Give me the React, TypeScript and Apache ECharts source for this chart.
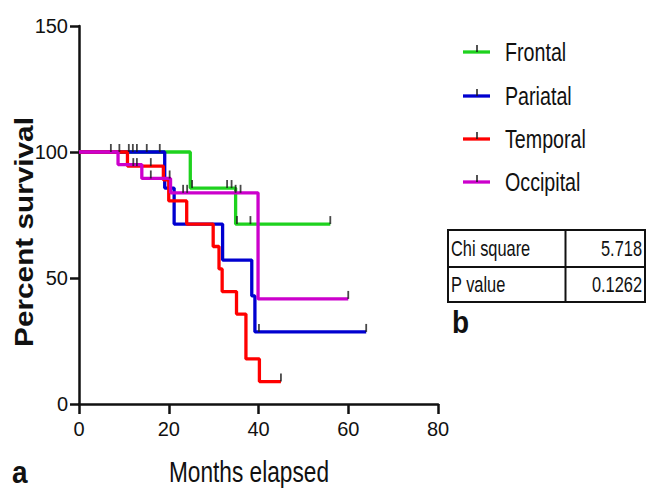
import React, { useEffect, useRef } from "react";
import * as echarts from "echarts";

const groups = ["Frontal", "Pariatal", "Temporal", "Occipital"];
const colors = ["#1ed21e", "#0000d0", "#ff0000", "#cc00cc"];

const xTickLabels = ["0", "20", "40", "60", "80"];
const yTickLabels = ["0", "50", "100", "150"];

// Kaplan-Meier step points (months, percent survival)
const frontalT = [0, 24.8, 34.9, 56];
const frontalS = [100, 85.7, 71.4, 71.4];
const pariatalT = [0, 19.1, 21.2, 32, 38.5, 39.2, 64];
const pariatalS = [100, 85.7, 71.4, 57.1, 42.9, 28.6, 28.6];
const temporalT = [0, 10.8, 18.8, 20.0, 24, 29.9, 31.2, 31.9, 35.1, 37.2, 40.2, 45];
const temporalS = [100, 94.4, 88.9, 80.6, 71.4, 62.5, 53.6, 44.6, 35.7, 17.9, 8.9, 8.9];
const occipitalT = [0, 8.7, 14.0, 20.4, 39.9, 60];
const occipitalS = [100, 95, 89.5, 83.8, 41.7, 41.7];

// censored observations
const frontalCT = [9, 11.1, 12, 12.9, 15.1, 18, 25.2, 33, 34, 35.2, 38.2, 56];
const frontalCS = [100, 100, 100, 100, 100, 100, 85.7, 85.7, 85.7, 71.4, 71.4, 71.4];
const pariatalCT = [40.1, 64];
const pariatalCS = [28.6, 28.6];
const temporalCT = [12.1, 12.9, 16.0, 45];
const temporalCS = [94.4, 94.4, 94.4, 8.9];
const occipitalCT = [7.1, 16.0, 20.2, 23.2, 24.1, 34.9, 36.0, 60];
const occipitalCS = [100, 89.5, 89.5, 83.8, 83.8, 83.8, 83.8, 41.7];

const stats = [
  ["Chi square", "5.718"],
  ["P value", "0.1262"],
];

const zip = (a: number[], b: number[]) => a.map((v, i) => [v, b[i]]);

const lineData = [
  zip(frontalT, frontalS),
  zip(pariatalT, pariatalS),
  zip(temporalT, temporalS),
  zip(occipitalT, occipitalS),
];
const censorData = [
  zip(frontalCT, frontalCS),
  zip(pariatalCT, pariatalCS),
  zip(temporalCT, temporalCS),
  zip(occipitalCT, occipitalCS),
];

const SANS = "'Liberation Sans', Arial, sans-serif";

export default function App() {
  const ref = useRef<HTMLDivElement>(null);
  useEffect(() => {
    if (!ref.current) return;
    const chart = echarts.init(ref.current, undefined, { renderer: "svg" });

    const series: any[] = [];
    groups.forEach((g, i) => {
      series.push({
        name: g,
        type: "line",
        step: "end",
        data: lineData[i],
        symbol: "none",
        lineStyle: { color: colors[i], width: 3.3 },
        itemStyle: { color: colors[i] },
        z: 2 + i,
      });
    });
    groups.forEach((g, i) => {
      series.push({
        name: g + " censored",
        type: "scatter",
        data: censorData[i],
        symbol: "rect",
        symbolSize: [1.8, 8],
        symbolOffset: [0, -4],
        itemStyle: { color: "#1a1a1a" },
        z: 10,
      });
    });

    const graphic: any[] = [];
    const legendY = [52, 96, 139, 182];
    groups.forEach((g, i) => {
      const y = legendY[i];
      graphic.push({
        type: "line",
        shape: { x1: 463, y1: y, x2: 490, y2: y },
        style: { stroke: colors[i], lineWidth: 3.3 },
      });
      graphic.push({
        type: "line",
        shape: { x1: 477, y1: y - 7, x2: 477, y2: y },
        style: { stroke: "#1a1a1a", lineWidth: 1.5 },
      });
      graphic.push({
        type: "text",
        x: 505,
        y: y,
        scaleX: 0.82,
        scaleY: 1.08,
        style: {
          text: g,
          fill: "#111",
          font: `24px ${SANS}`,
          textAlign: "left",
          textVerticalAlign: "middle",
        },
      });
    });

    // stats table
    const tL = 448, tR = 645, tT = 230, tM = 267, tB = 302, tC = 565.5;
    graphic.push({
      type: "rect",
      shape: { x: tL, y: tT, width: tR - tL, height: tB - tT },
      style: { fill: "none", stroke: "#111", lineWidth: 2 },
    });
    graphic.push({
      type: "line",
      shape: { x1: tL, y1: tM, x2: tR, y2: tM },
      style: { stroke: "#111", lineWidth: 2 },
    });
    graphic.push({
      type: "line",
      shape: { x1: tC, y1: tT, x2: tC, y2: tB },
      style: { stroke: "#111", lineWidth: 2 },
    });
    const rowY = [249, 285];
    stats.forEach((row, r) => {
      graphic.push({
        type: "text",
        x: tL + 3,
        y: rowY[r],
        scaleX: 0.82,
        scaleY: 1.08,
        style: { text: row[0], fill: "#111", font: `20px ${SANS}`, textAlign: "left", textVerticalAlign: "middle" },
      });
      graphic.push({
        type: "text",
        x: tR - 3,
        y: rowY[r],
        scaleX: 0.82,
        scaleY: 1.08,
        style: { text: row[1], fill: "#111", font: `20px ${SANS}`, textAlign: "right", textVerticalAlign: "middle" },
      });
    });

    // panel letters
    graphic.push({
      type: "text",
      x: 12,
      y: 472,
      scaleY: 1.12,
      style: { text: "a", fill: "#111", font: `bold 28px ${SANS}`, textAlign: "left", textVerticalAlign: "middle" },
    });
    graphic.push({
      type: "text",
      x: 452,
      y: 322,
      scaleY: 1.1,
      style: { text: "b", fill: "#111", font: `bold 28px ${SANS}`, textAlign: "left", textVerticalAlign: "middle" },
    });

    // axis titles
    graphic.push({
      type: "text",
      x: 249,
      y: 472,
      scaleX: 0.84,
      scaleY: 1.06,
      style: { text: "Months elapsed", fill: "#111", font: `27px ${SANS}`, textAlign: "center", textVerticalAlign: "middle" },
    });
    graphic.push({
      type: "text",
      x: 24,
      y: 232,
      rotation: Math.PI / 2,
      scaleX: 1.19,
      style: { text: "Percent survival", fill: "#111", font: `bold 25px ${SANS}`, textAlign: "center", textVerticalAlign: "middle" },
    });

    chart.setOption({
      animation: false,
      backgroundColor: "#ffffff",
      grid: { left: 79, right: 219, top: 26, bottom: 84, containLabel: false },
      xAxis: {
        type: "value",
        min: 0,
        max: 80,
        interval: 20,
        axisLine: { show: true, lineStyle: { color: "#111", width: 2.5 } },
        axisTick: { show: true, length: 10, lineStyle: { color: "#111", width: 2.5 } },
        axisLabel: {
          margin: 15,
          color: "#111",
          fontSize: 20,
          fontFamily: SANS,
          formatter: (v: number) => xTickLabels[Math.round(v / 20)] ?? "",
        },
        splitLine: { show: false },
      },
      yAxis: {
        type: "value",
        min: 0,
        max: 150,
        interval: 50,
        axisLine: { show: true, lineStyle: { color: "#111", width: 2.5 } },
        axisTick: { show: true, length: 9, lineStyle: { color: "#111", width: 2.5 } },
        axisLabel: {
          margin: 11,
          color: "#111",
          fontSize: 20,
          fontFamily: SANS,
          formatter: (v: number) => yTickLabels[Math.round(v / 50)] ?? "",
        },
        splitLine: { show: false },
      },
      series,
      graphic,
    });
    return () => chart.dispose();
  }, []);
  return <div ref={ref} style={{ width: 657, height: 488, position: "absolute", left: 0, top: 0 }} />;
}
